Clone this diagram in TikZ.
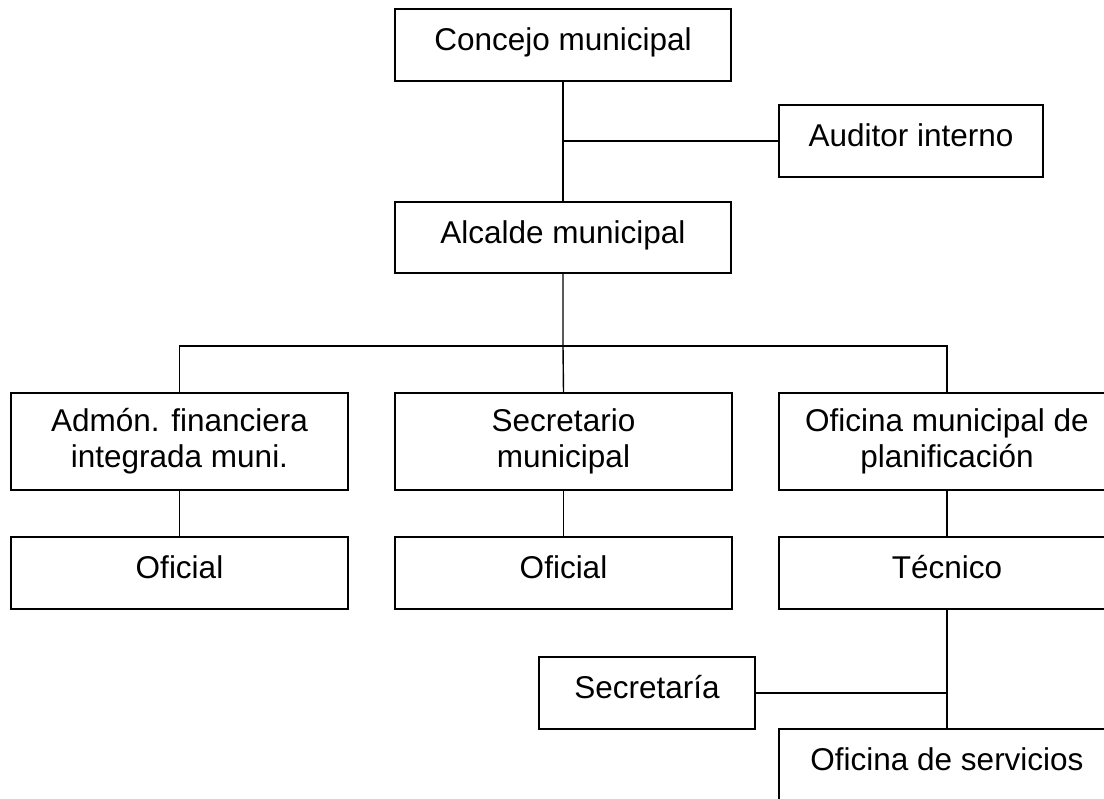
\documentclass[tikz,border=0pt]{standalone}
\usepackage{fontspec}
\setmainfont{Liberation Sans}
\usepackage{tikz}

\begin{document}
\begin{tikzpicture}[x=1pt,y=-1pt,
  unit/.style={draw,line width=1.4pt,minimum width=336pt,minimum height=72pt,
    inner sep=0pt,align=center,font=\fontsize{31.5}{36}\selectfont},
  oneline/.style={unit,text height=22pt,text depth=10.5pt},
  link/.style={line width=1.4pt}]
\useasboundingbox (0,0) rectangle (1104,799);
\clip (0,0) rectangle (1104,799);
\node[oneline] (concejo) at (563,45) {Concejo municipal};
\node[oneline,minimum width=264pt] (auditor) at (911,141) {Auditor interno};
\node[oneline,minimum height=71pt] (alcalde) at (563,237.5) {Alcalde municipal};
\coordinate (bus) at (563,346);
\node[unit,minimum width=337pt,minimum height=97pt] (admon) at (179.5,441.5) {Admón. financiera\\integrada muni.};
\node[unit,minimum width=337pt,minimum height=97pt] (secretario) at (563.5,441.5) {Secretario\\municipal};
\node[unit,minimum height=97pt] (planif) at (947,441.5) {Oficina municipal de\\planificación};
\node[oneline,minimum width=337pt] (oficial1) at (179.5,573) {Oficial};
\node[oneline,minimum width=337pt] (oficial2) at (563.5,573) {Oficial};
\node[oneline] (tecnico) at (947,573) {Técnico};
\node[oneline,minimum width=216pt] (secretaria) at (647,693) {Secretaría};
\node[oneline] (servicios) at (947,765) {Oficina de servicios};
\draw[link] (concejo.south) -- (alcalde.north);
\draw[link] (auditor.west) -- (auditor.west -| concejo.south);
\draw[link] (alcalde.south) -- (bus) -- (secretario.north);
\draw[link] (admon.north) |- (bus) -| (planif.north);
\draw[link] (admon.south) -- (oficial1.north);
\draw[link] (secretario.south) -- (oficial2.north);
\draw[link] (planif.south) -- (tecnico.north);
\draw[link] (tecnico.south) -- (servicios.north);
\draw[link] (secretaria.east) -- (secretaria.east -| tecnico.south);
\end{tikzpicture}
\end{document}
